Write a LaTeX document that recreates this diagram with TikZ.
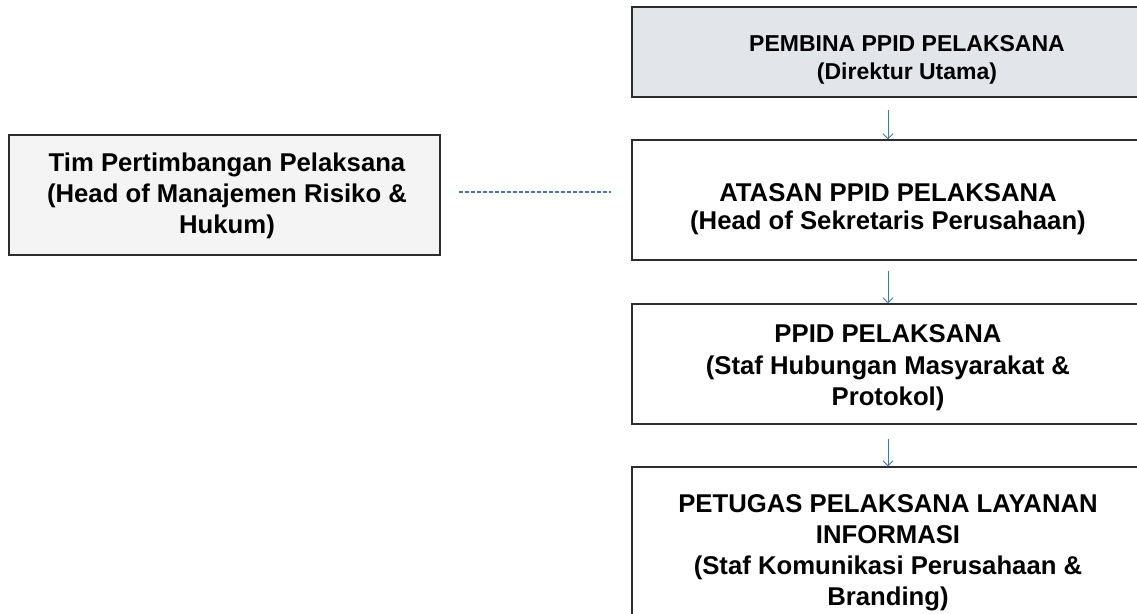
\documentclass[tikz,border=0pt]{standalone}
\usepackage{fontspec}
\setmainfont{Liberation Sans}
\usetikzlibrary{arrows.meta}
\definecolor{boxgray}{RGB}{226,229,233}
\definecolor{lightfill}{RGB}{244,244,244}
\definecolor{linkblue}{RGB}{70,120,165}
\definecolor{edge}{RGB}{45,45,45}
\tikzset{
  orgbox/.style={draw=edge, line width=1.3pt, inner sep=0pt},
  orgtext/.style={inner sep=0pt, align=center, text=black},
  bigtext/.style={orgtext, font=\fontsize{25.7}{31}\selectfont\bfseries},
  link/.style={draw=linkblue, line width=0.9pt, -{Straight Barb[length=5pt,width=10pt]}},
  dotlink/.style={draw=linkblue, line width=1.2pt, dash pattern=on 4pt off 2pt}
}
\begin{document}
\begin{tikzpicture}[x=1pt,y=-1pt]
\useasboundingbox (0,0) rectangle (1137,613);
\clip (0,0) rectangle (1137,613);
\fill[white] (0,0) rectangle (1137,613);
% boxes
\node[orgbox, fill=boxgray, minimum width=512pt, minimum height=90pt] (pembina) at (888,52) {};
\node[orgbox, fill=white, minimum width=512pt, minimum height=120pt] (atasan) at (888,200) {};
\node[orgbox, fill=white, minimum width=512pt, minimum height=120pt] (ppid) at (888,364) {};
\node[orgbox, fill=white, minimum width=512pt, minimum height=172pt] (petugas) at (888,553) {};
\node[orgbox, fill=lightfill, minimum width=431pt, minimum height=120pt] (tim) at (224.5,195) {};
% texts
\node[orgtext, font=\fontsize{23}{28}\selectfont\bfseries] (pembinaT) at (907,60)
  {PEMBINA PPID PELAKSANA\\(Direktur Utama)};
\node[orgtext, font=\fontsize{25.7}{28}\selectfont\bfseries] (atasanT) at (888,209.5)
  {ATASAN PPID PELAKSANA\\(Head of Sekretaris Perusahaan)};
\node[bigtext, font=\fontsize{25.7}{31.5}\selectfont\bfseries] (ppidT) at (888,368)
  {PPID PELAKSANA\\(Staf Hubungan Masyarakat \&\\Protokol)};
\node[bigtext] (petugasT) at (888,553)
  {PETUGAS PELAKSANA LAYANAN\\INFORMASI\\(Staf Komunikasi Perusahaan \&\\Branding)};
\node[bigtext] (timT) at (227,195.5)
  {Tim Pertimbangan Pelaksana\\(Head of Manajemen Risiko \&\\Hukum)};
% connectors
\draw[link, shorten <=12pt] (pembina.south) -- (atasan.north);
\draw[link, shorten <=10pt] (atasan.south) -- (ppid.north);
\draw[link, shorten <=14pt] (ppid.south) -- (petugas.north);
\draw[dotlink, shorten <=18pt, shorten >=20pt] ([yshift=3pt]tim.east) -- ([yshift=3pt]tim.east -| atasan.west);
\end{tikzpicture}
\end{document}
